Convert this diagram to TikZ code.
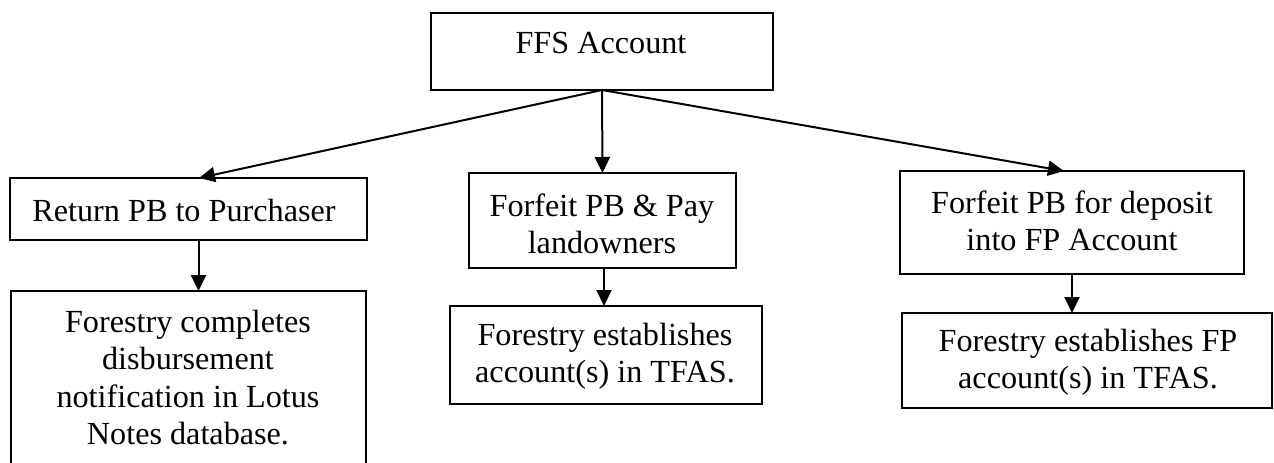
\documentclass[tikz,border=0pt]{standalone}
\usepackage{fontspec}
\setmainfont{Liberation Serif}
\usetikzlibrary{arrows.meta,calc}
\begin{document}
\begin{tikzpicture}[x=0.5pt,y=-0.5pt,
  box/.style={draw,line width=1pt,rectangle,inner sep=0pt,outer sep=0pt},
  txt/.style={align=center,inner sep=0pt,font=\fontsize{16.1pt}{18.7pt}\selectfont},
  arr/.style={line width=1pt,-{Triangle[length=8pt,width=7.5pt]}}]
\useasboundingbox (0,0) rectangle (1274,462);
\clip (0,0) rectangle (1274,462);
% boxes
\node[box,minimum width=171pt,minimum height=38.5pt] (ffs) at (602,51.5) {};
\node[box,minimum width=178.5pt,minimum height=31pt] (ret) at (188.5,209) {};
\node[box,minimum width=133.5pt,minimum height=47.5pt] (mid) at (602.5,220.5) {};
\node[box,minimum width=172pt,minimum height=51.5pt] (rgt) at (1072,222.5) {};
\node[box,minimum width=177.5pt,minimum height=92pt] (lleft) at (188.5,383) {};
\node[box,minimum width=156pt,minimum height=49pt] (lmid) at (606,355) {};
\node[box,minimum width=185pt,minimum height=47.5pt] (lrgt) at (1087,360.5) {};
% texts
\node[txt] (ffst) at (601,43) {FFS Account};
\node[txt] (rett) at (184,210) {Return PB to Purchaser};
\node[txt] (midt) at (602,224) {Forfeit PB \& Pay\\landowners};
\node[txt] (rgtt) at (1072,221) {Forfeit PB for deposit\\into FP Account};
\node[txt] (llt) at (188,377.5) {Forestry completes\\disbursement\\notification in Lotus\\Notes database.};
\node[txt] (lmt) at (605,356.5) {Forestry establishes\\account(s) in TFAS.};
\node[txt] (lrt) at (1088,362.5) {Forestry establishes FP\\account(s) in TFAS.};
% connectors
\draw[arr] (ffs.south) -- ([xshift=5.25pt]ret.north);
\draw[arr] (ffs.south) -- (mid.north);
\draw[arr] (ffs.south) -- ([xshift=-4pt]rgt.north);
\draw[arr] ([xshift=5pt]ret.south) -- ([xshift=5pt]ret.south |- lleft.north);
\draw[arr] ([xshift=0.75pt]mid.south) -- ([xshift=0.75pt]mid.south |- lmid.north);
\draw[arr] (rgt.south) -- (rgt.south |- lrgt.north);
\end{tikzpicture}
\end{document}
